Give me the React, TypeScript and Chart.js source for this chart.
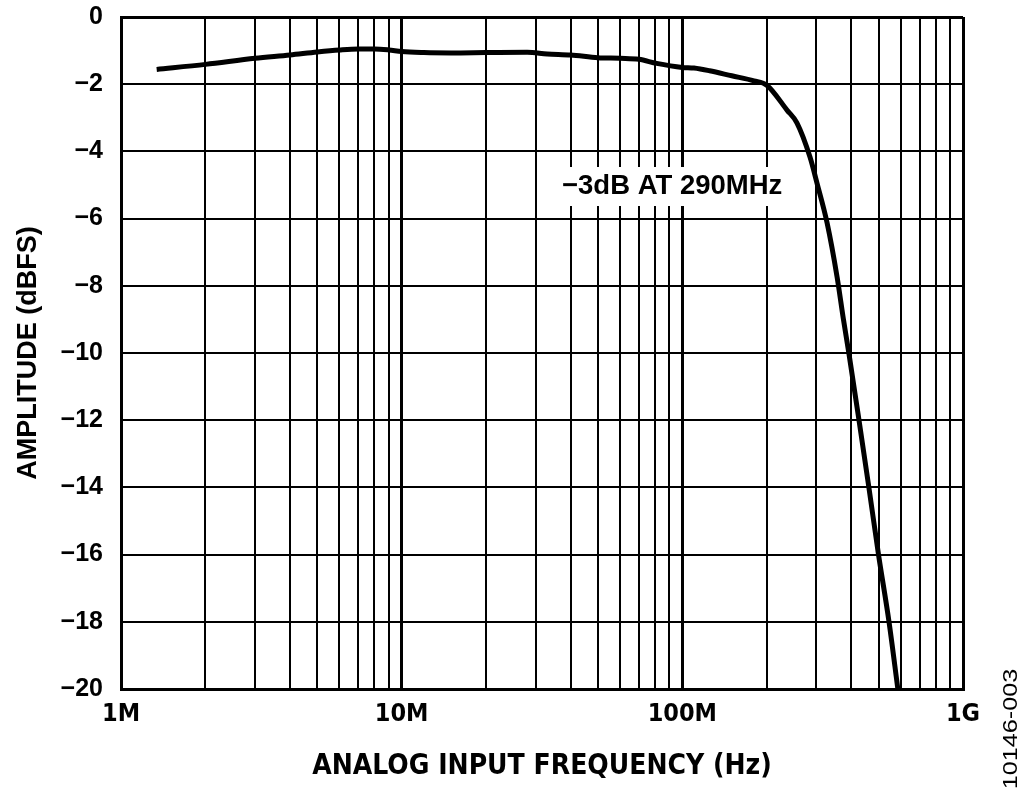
import React, { useEffect, useRef } from "react";
import { Chart, ChartConfiguration, Plugin, registerables } from "chart.js";

Chart.register(...registerables);

// frequency response (MHz, dBFS)
const freqMHz = [
  1.34, 2, 3, 4, 5, 6, 7, 8, 9, 10, 12, 15, 20, 28, 33, 40, 50, 60, 70, 81,
  100, 110, 125, 150, 180, 200, 236, 256, 285, 302, 328, 356, 375, 392, 426,
  462, 500, 545, 586,
];
const amplitudeDb = [
  -1.56, -1.41, -1.23, -1.13, -1.04, -0.98, -0.95, -0.95, -0.98, -1.03,
  -1.06, -1.07, -1.06, -1.05, -1.1, -1.13, -1.21, -1.23, -1.26, -1.38, -1.5,
  -1.52, -1.6, -1.75, -1.9, -2.03, -2.77, -3.15, -4.17, -4.95, -6.13, -7.74,
  -9.0, -10.0, -12.0, -14.0, -16.0, -18.0, -20.0,
];

// vertical grid lines (MHz) and the labelled decades
const xGridMHz = [
  1, 2, 3, 4, 5, 6, 7, 8, 9, 10, 20, 30, 40, 50, 60, 70, 80, 90, 100, 200,
  300, 400, 500, 600, 700, 800, 900, 1000,
];
const decadeMHz = [1, 10, 100, 1000];
const decadeLabels = ["1M", "10M", "100M", "1G"];

const yMin = -20;
const yMax = 0;
const yStep = 2;

const noteText = "\u22123dB AT 290MHz";
const noteAt = { freqMHz: 92, db: -5.03 };
const figureId = "10146-003";

const boldFont = "'Liberation Sans', Arial, sans-serif";
const narrowFont = "'Liberation Sans Narrow', 'DejaVu Sans Condensed', Arial, sans-serif";

const notePlugin: Plugin<"line"> = {
  id: "note",
  afterDraw(chart) {
    const { ctx, scales } = chart;
    const x = scales.x.getPixelForValue(noteAt.freqMHz * 1e6);
    const y = scales.y.getPixelForValue(noteAt.db);
    ctx.save();
    ctx.font = `bold 27.5px ${boldFont}`;
    const w = ctx.measureText(noteText).width;
    ctx.fillStyle = "#fff";
    ctx.fillRect(x - w / 2 - 4, y - 19, w + 8, 39);
    ctx.fillStyle = "#000";
    ctx.textAlign = "center";
    ctx.textBaseline = "middle";
    ctx.fillText(noteText, x, y);

    // figure number, rotated up the right edge
    ctx.translate(1011, 729);
    ctx.rotate(-Math.PI / 2);
    ctx.scale(1.2, 1);
    ctx.font = `21px ${boldFont}`;
    ctx.fillText(figureId, 0, 0);
    ctx.restore();
  },
};

const App: React.FC = () => {
  const chartRef = useRef<HTMLCanvasElement | null>(null);

  useEffect(() => {
    document.body.style.margin = "0";
    if (!chartRef.current) return;
    const ctx = chartRef.current.getContext("2d");
    if (!ctx) return;

    const isDecade = (v: number) =>
      decadeMHz.some((d) => Math.abs(d * 1e6 - v) < 1);

    const config: ChartConfiguration<"line"> = {
      type: "line",
      data: {
        datasets: [
          {
            data: freqMHz.map((f, i) => ({ x: f * 1e6, y: amplitudeDb[i] })),
            borderColor: "#000",
            borderWidth: 5,
            pointRadius: 0,
            cubicInterpolationMode: "monotone",
            fill: false,
          },
        ],
      },
      options: {
        responsive: false,
        animation: false,
        layout: {
          autoPadding: false,
          padding: { top: 17, right: 61, left: 0, bottom: 0 },
        },
        plugins: {
          legend: { display: false },
          tooltip: { enabled: false },
        },
        scales: {
          x: {
            type: "logarithmic",
            min: 1e6,
            max: 1e9,
            afterBuildTicks: (scale) => {
              scale.ticks = xGridMHz.map((f) => ({ value: f * 1e6 }));
            },
            afterFit: (scale: any) => {
              scale.height = 105;
              scale.paddingLeft = 0;
              scale.paddingRight = 0;
            },
            ticks: {
              autoSkip: false,
              maxRotation: 0,
              padding: 10,
              color: "#000",
              font: { family: narrowFont, weight: "bold", size: 25 },
              callback: (v) => {
                const i = decadeMHz.findIndex(
                  (d) => Math.abs(d * 1e6 - Number(v)) < 1,
                );
                return i >= 0 ? decadeLabels[i] : "";
              },
            },
            grid: {
              color: "#000",
              drawTicks: false,
              lineWidth: (c) => (isDecade(c.tick.value) ? 3 : 2),
            },
            border: { color: "#000", width: 3 },
            title: {
              display: true,
              text: "ANALOG INPUT FREQUENCY (Hz)",
              color: "#000",
              font: { family: narrowFont, weight: "bold", size: 28 },
              padding: { top: 0, bottom: 10 },
            },
          },
          y: {
            min: yMin,
            max: yMax,
            afterFit: (scale: any) => {
              scale.width = 121;
              scale.paddingTop = 0;
              scale.paddingBottom = 0;
            },
            ticks: {
              stepSize: yStep,
              padding: 18,
              color: "#000",
              font: { family: boldFont, weight: "bold", size: 25 },
              callback: (v) =>
                Number(v) === 0 ? "0" : "\u2212" + Math.abs(Number(v)),
            },
            grid: {
              color: "#000",
              drawTicks: false,
              lineWidth: (c) =>
                c.tick.value === yMax || c.tick.value === yMin ? 3 : 2,
            },
            border: { color: "#000", width: 3 },
            title: {
              display: true,
              text: "AMPLITUDE (dBFS)",
              color: "#000",
              font: { family: boldFont, weight: "bold", size: 27 },
              padding: { top: 12, bottom: 0 },
            },
          },
        },
      },
      plugins: [notePlugin],
    };

    const myChart = new Chart(ctx, config);
    return () => {
      myChart.destroy();
    };
  }, []);

  return <canvas ref={chartRef} width={1024} height={794} />;
};

export default App;
